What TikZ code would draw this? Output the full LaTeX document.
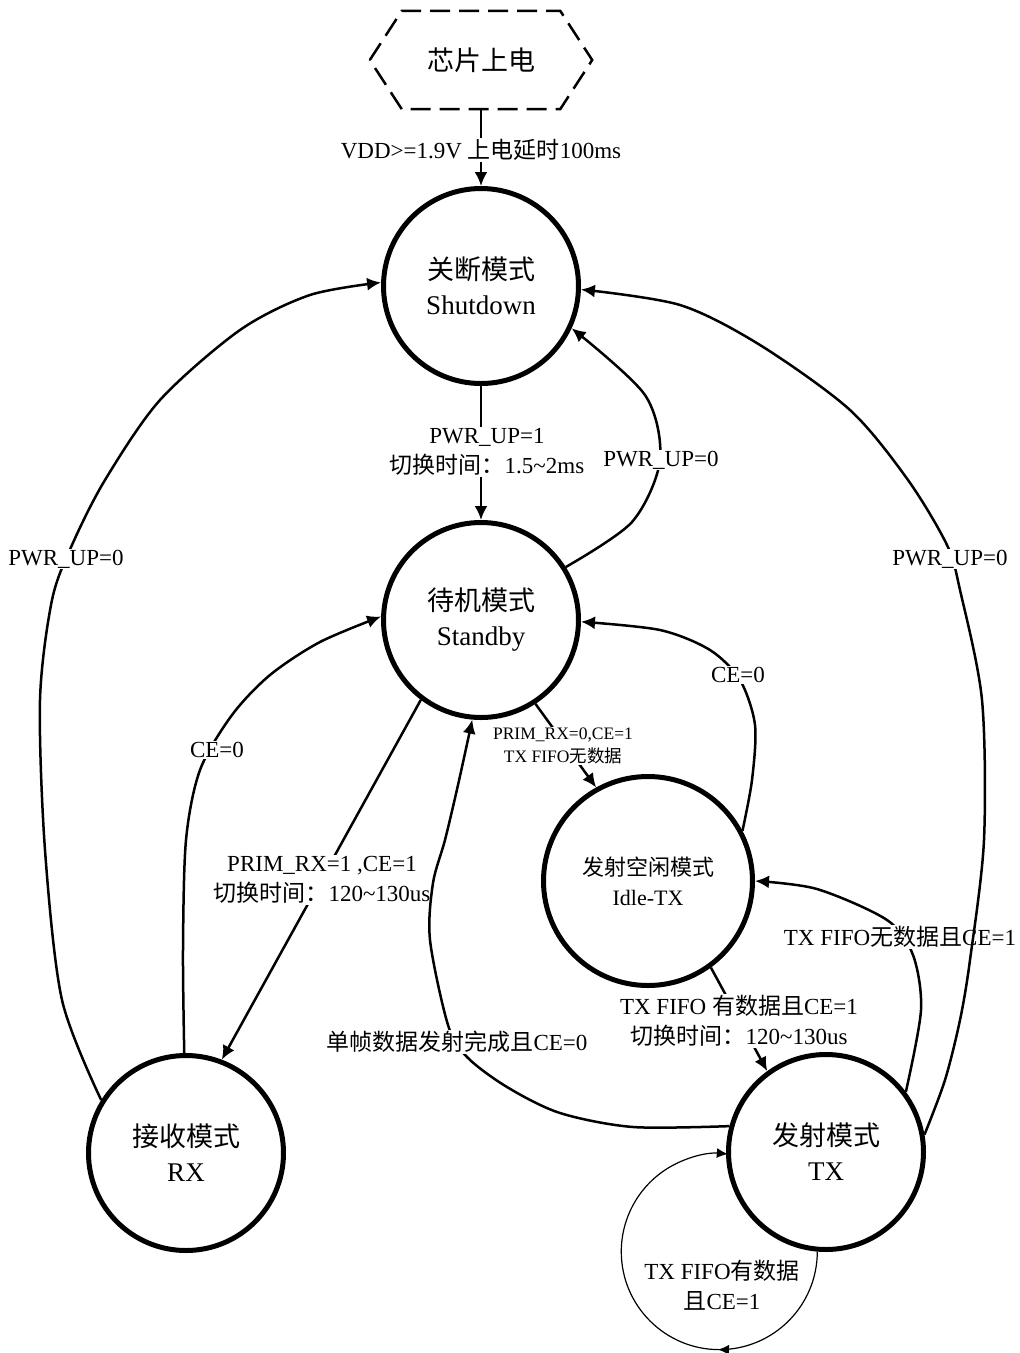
\documentclass[tikz,border=0pt]{standalone}
\usepackage{fontspec}
\setmainfont{Liberation Serif}
\newfontfamily\cjkfont{Noto Sans CJK SC}
\usetikzlibrary{arrows.meta,decorations.markings}
\newcommand\zh[1]{{\cjkfont #1}}
\begin{document}
\begin{tikzpicture}[x=1pt,y=1pt,
  state/.style={circle,draw,line width=5pt,minimum size=195pt,inner sep=0pt,align=center,font=\fontsize{27}{35}\selectfont},
  hexnode/.style={minimum width=222pt,minimum height=98pt,inner sep=0pt,font=\fontsize{27}{35}\selectfont},
  hexline/.style={line width=2.5pt,dash pattern=on 20pt off 9pt},
  conn/.style={line width=2.5pt,-{Latex[length=14pt,width=13pt]}},
  lab/.style={fill=white,inner sep=1pt,align=center,font=\fontsize{23}{30}\selectfont},
  smalllab/.style={fill=white,inner sep=1pt,align=center,font=\fontsize{17.5}{23}\selectfont},
  loopline/.style={line width=1.2pt,-{Latex[length=11pt,width=10pt]},
    postaction={decorate},
    decoration={markings,mark=at position 0.33 with {\arrow{Latex[length=11pt,width=10pt]}}}}
]
\useasboundingbox (0,0) rectangle (1020,-1353);

% states
\node[hexnode] (power) at (481,-60) {\zh{芯片上电}};
\draw[hexline] (power.west) -- ([xshift=32pt]power.north west) -- ([xshift=-32pt]power.north east)
  -- (power.east) -- ([xshift=-32pt]power.south east) -- ([xshift=32pt]power.south west) -- cycle;
\node[state] (sd) at (481,-286) {\zh{关断模式}\\Shutdown};
\node[state] (sb) at (481,-620) {\zh{待机模式}\\Standby};
\node[state,minimum size=209pt,font=\fontsize{22}{30}\selectfont] (idle) at (648,-881) {\zh{发射空闲模式}\\Idle-TX};
\node[state] (rx) at (186,-1153) {\zh{接收模式}\\RX};
\node[state] (tx) at (826,-1152) {\zh{发射模式}\\TX};

% power on
\draw[conn] (power.south) -- (sd.north);
\node[lab] (l1) at (481,-150) {VDD>=1.9V \zh{上电延时}100ms};

% shutdown -> standby
\draw[conn] (sd.south) -- (sb.north);
\node[lab] (l2) at (487,-452) {PWR\_UP=1\\\zh{切换时间：}1.5\textasciitilde 2ms};

% standby -> shutdown
\draw[conn] plot[smooth] coordinates {(sb.32) (632,-522) (660,-460) (645,-395) (sd.-25)};
\node[lab] (l3) at (661,-460) {PWR\_UP=0};

% rx -> shutdown
\draw[conn] plot[smooth] coordinates {(rx.148) (62,-1000) (45,-850) (40,-700) (52,-600) (72,-545) (105,-480) (160,-400) (240,-330) (310,-295) (sd.178)};
\node[lab] (l4) at (66,-559) {PWR\_UP=0};

% rx -> standby
\draw[conn] plot[smooth] coordinates {(rx.91) (183,-950) (186,-840) (200,-770) (232,-715) (270,-675) (320,-642) (sb.178)};
\node[lab] (l6) at (217,-750) {CE=0};

% standby -> rx
\draw[conn] (sb.233) -- (rx.69);
\node[lab] (l7) at (322,-880) {PRIM\_RX=1 ,CE=1\\\zh{切换时间：}120\textasciitilde 130us};

% standby -> idle
\draw[conn] (sb.-57) -- (idle.119);
\node[smalllab] (l8) at (563,-746) {PRIM\_RX=0,CE=1\\TX FIFO\zh{无数据}};

% idle -> standby
\draw[conn] plot[smooth] coordinates {(idle.28) (752,-780) (755,-725) (740,-680) (710,-650) (660,-630) (sb.-1)};
\node[lab] (l9) at (738,-675) {CE=0};

% tx -> idle
\draw[conn] plot[smooth] coordinates {(tx.37) (921,-1010) (913,-955) (887,-920) (817,-889) (idle.0)};
\node[lab] (l10) at (900,-937) {TX FIFO\zh{无数据且}CE=1};

% idle -> tx
\draw[conn] (idle.-54) -- (tx.126);
\node[lab] (l11) at (739,-1021) {TX FIFO \zh{有数据且}CE=1\\\zh{切换时间：}120\textasciitilde 130us};

% tx -> standby
\draw[conn] plot[smooth] coordinates {(tx.165) (633,-1127) (560,-1113) (507,-1087) (467,-1057) (448,-1025) (430,-940) (433,-883) (445,-840) (458,-785) (sb.265)};
\node[lab] (l12) at (457,-1042) {\zh{单帧数据发射完成且}CE=0};

% tx -> shutdown
\draw[conn] plot[smooth] coordinates {(tx.10) (945,-1080) (960,-1020) (970,-960) (984,-840) (982,-700) (960,-590) (947,-545) (908,-480) (850,-410) (760,-345) (680,-305) (sd.-2)};
\node[lab] (l5) at (950,-559) {PWR\_UP=0};

% tx self loop
\draw[loopline] (tx.265) arc[start angle=0,end angle=-275,radius=98pt];
\node[lab,fill=none] (l13) at (722,-1285) {TX FIFO\zh{有数据}\\\zh{且}CE=1};
\end{tikzpicture}
\end{document}
